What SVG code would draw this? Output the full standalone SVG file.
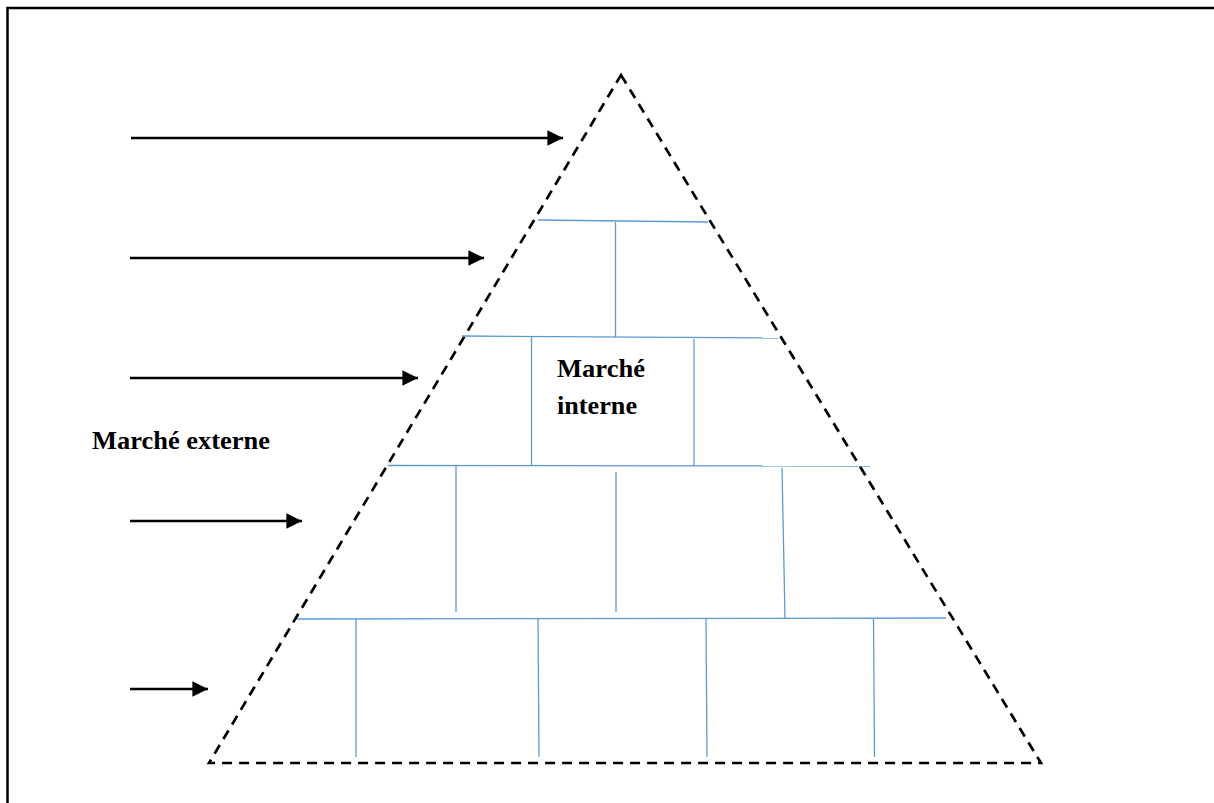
<svg xmlns="http://www.w3.org/2000/svg" width="1214" height="803" viewBox="0 0 1214 803">
<defs>
<style>
.frame{stroke:#000;stroke-width:2.5;fill:none}
.dash{stroke:#000;stroke-width:2.7;fill:none;stroke-dasharray:10,7}
.blue{stroke:#5b9bd5;stroke-width:1.3;fill:none}
.arrow{stroke:#000;stroke-width:2.4;fill:none;marker-end:url(#ah)}
.lbl{font-family:"Liberation Serif","Times New Roman",serif;font-weight:bold;font-size:26px;fill:#000}
</style>
<marker id="ah" viewBox="0 0 10 10" refX="10" refY="5" markerWidth="6.5" markerHeight="6.5" markerUnits="strokeWidth" orient="auto">
<path d="M0,0 L10,5 L0,10 Z" fill="#000"/>
</marker>
</defs>
<rect width="1214" height="803" fill="#fff"/>
<g id="frame">
<path class="frame" d="M7.5,803 V8 H1214"/>
</g>
<g id="pyramid">
<path class="dash" d="M621,75 L1041,763 L209,763 Z"/>
<g id="bricks">
<line class="blue" x1="538" y1="220" x2="708" y2="222"/>
<line class="blue" x1="615.5" y1="222" x2="615.5" y2="337"/>
<line class="blue" x1="462" y1="336" x2="778" y2="338"/>
<line class="blue" x1="531.5" y1="337" x2="531.5" y2="466"/>
<line class="blue" x1="694" y1="339" x2="694" y2="466"/>
<line class="blue" x1="388" y1="465.5" x2="870" y2="466"/>
<line class="blue" x1="456" y1="466" x2="456" y2="612"/>
<line class="blue" x1="616" y1="472" x2="616" y2="612"/>
<line class="blue" x1="782" y1="468" x2="785" y2="618"/>
<line class="blue" x1="297" y1="619" x2="946" y2="618"/>
<line class="blue" x1="356" y1="619" x2="356" y2="757"/>
<line class="blue" x1="538" y1="619" x2="539" y2="757"/>
<line class="blue" x1="706" y1="619" x2="707" y2="757"/>
<line class="blue" x1="873.5" y1="619" x2="874.5" y2="757"/>
</g>
</g>
<g id="internal-label">
<text class="lbl" x="557" y="377" textLength="88" lengthAdjust="spacingAndGlyphs">Marché</text>
<text class="lbl" x="557" y="414" textLength="80" lengthAdjust="spacingAndGlyphs">interne</text>
</g>
<g id="external-label">
<text class="lbl" x="92" y="449" textLength="178" lengthAdjust="spacingAndGlyphs">Marché externe</text>
</g>
<g id="connectors">
<line class="arrow" x1="131" y1="138" x2="563" y2="138"/>
<line class="arrow" x1="130" y1="258" x2="484" y2="258"/>
<line class="arrow" x1="130" y1="378" x2="418" y2="378"/>
<line class="arrow" x1="130" y1="521" x2="302" y2="521"/>
<line class="arrow" x1="130" y1="689" x2="208" y2="689"/>
</g>
</svg>
